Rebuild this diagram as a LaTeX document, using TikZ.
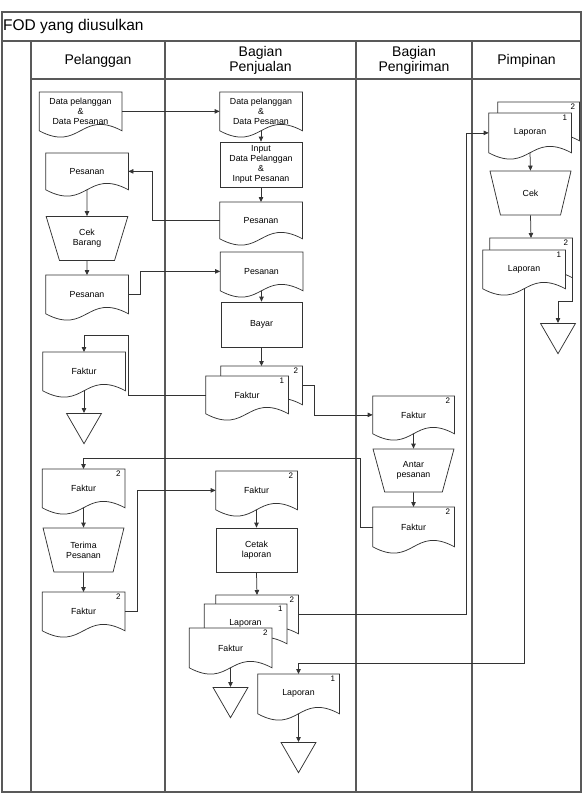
\documentclass[tikz,border=0pt]{standalone}
\usepackage{fontspec}
\setmainfont{Liberation Sans}
\usetikzlibrary{shapes.geometric,arrows.meta}

% bentuk dokumen: persegi dengan sisi bawah bergelombang
\newdimen\dokxa \newdimen\dokya \newdimen\dokxb \newdimen\dokyb \newdimen\dokxc
\makeatletter
\pgfdeclareshape{dokumen}{
  \inheritsavedanchors[from=rectangle]
  \inheritanchorborder[from=rectangle]
  \inheritanchor[from=rectangle]{center}
  \inheritanchor[from=rectangle]{text}
  \inheritanchor[from=rectangle]{north}
  \inheritanchor[from=rectangle]{south}
  \inheritanchor[from=rectangle]{east}
  \inheritanchor[from=rectangle]{west}
  \inheritanchor[from=rectangle]{north east}
  \inheritanchor[from=rectangle]{north west}
  \inheritanchor[from=rectangle]{south east}
  \inheritanchor[from=rectangle]{south west}
  \backgroundpath{%
    \southwest \dokxa=\pgf@x \dokya=\pgf@y
    \northeast \dokxb=\pgf@x \dokyb=\pgf@y
    \dokxc=.5\dokxa \advance\dokxc by .5\dokxb
    \pgfpathmoveto{\pgfqpoint{\dokxa}{\dokya}}%
    \pgfpathlineto{\pgfqpoint{\dokxa}{\dokyb}}%
    \pgfpathlineto{\pgfqpoint{\dokxb}{\dokyb}}%
    \pgfpathlineto{\pgfqpoint{\dokxb}{\dokya}}%
    \pgfpathcurveto{\pgfqpoint{\dokxc}{\dimexpr\dokya+22pt\relax}}%
                   {\pgfqpoint{\dokxc}{\dimexpr\dokya-22pt\relax}}%
                   {\pgfqpoint{\dokxa}{\dokya}}%
    \pgfpathclose
  }
}
\makeatother

\newcommand\teksisi{\fontsize{8.8}{10}\selectfont}

\begin{document}
\begin{tikzpicture}[x=1pt, y=-1pt,
  garis/.style={draw=black!80, line width=0.75pt},
  dok/.style={shape=dokumen, garis, fill=white, minimum width=82pt, minimum height=38pt,
    inner sep=1pt, align=center, anchor=north, font=\teksisi},
  proses/.style={rectangle, garis, fill=white, minimum width=82pt, minimum height=45pt,
    inner sep=1pt, align=center, font=\teksisi},
  manual/.style={trapezium, trapezium angle=110, trapezium stretches=true, garis,
    minimum width=82pt, minimum height=44pt, inner sep=1pt, align=center, font=\teksisi},
  arsip/.style={regular polygon, regular polygon sides=3, shape border rotate=180, garis,
    minimum size=40.4pt, inner sep=0pt, anchor=north},
  nomor/.style={anchor=north east, font=\fontsize{8}{8}\selectfont, inner xsep=4pt, inner ysep=2pt},
  panah/.style={draw=black!80, line width=0.75pt, -{Triangle[length=5pt,width=4.5pt]}},
  bingkai/.style={draw=black!65, line width=1.2pt},
  judul/.style={font=\fontsize{14}{15}\selectfont, align=center}]

  \useasboundingbox (0,0) rectangle (584,795);

  % ---- bingkai dan kepala kolom ----
  \draw[bingkai] (2,12) rectangle (581,792);
  \draw[bingkai] (2,41) -- (581,41);
  \draw[bingkai] (31,79) -- (581,79);
  \foreach \x in {31,165,356,472}
    \draw[bingkai] (\x,41) -- (\x,792);
  \node[anchor=west, inner sep=1pt, font=\fontsize{15.5}{16}\selectfont] (judulFOD) at (2,26.5) {FOD yang diusulkan};
  \node[judul] (hdPelanggan)  at (98,61)    {Pelanggan};
  \node[judul] (hdPenjualan)  at (260.5,60) {Bagian\\Penjualan};
  \node[judul] (hdPengiriman) at (414,60)   {Bagian\\Pengiriman};
  \node[judul] (hdPimpinan)   at (526.5,61) {Pimpinan};

  % ---- 1) Pelanggan ----
  \node[dok] (plData) at (80.5,92) {Data pelanggan\\\&\\Data Pesanan};
  \node[dok, minimum height=36pt] (plPesanan) at (87,153) {Pesanan};
  \node[manual] (plCekBarang) at (87,238.5) {Cek\\Barang};
  \node[dok] (plPesanan2) at (87,275) {Pesanan};
  \node[dok] (plFaktur) at (84,352) {Faktur};
  \node[arsip] (plArsip) at (84,413) {};
  \node[dok, label={[nomor]north east:2}] (plFaktur2) at (83.5,469) {Faktur};
  \node[manual, minimum width=81pt] (plTerima) at (83.5,550) {Terima\\Pesanan};
  \node[dok, label={[nomor]north east:2}] (plFaktur3) at (83.5,592) {Faktur};

  % ---- 2) Bagian Penjualan ----
  \node[dok] (pjData) at (261,92) {Data pelanggan\\\&\\Data Pesanan};
  \node[proses] (pjInput) at (261,164.5) {Input\\Data Pelanggan\\\&\\Input Pesanan};
  \node[dok, minimum height=36pt] (pjPesanan) at (261,202) {Pesanan};
  \node[dok] (pjPesanan2) at (261.5,252) {Pesanan};
  \node[proses, minimum width=81pt] (pjBayar) at (261.5,324.5) {Bayar};
  \node[dok, minimum width=81pt, label={[nomor]north east:2}] (pjFakturB) at (261.5,366) {};
  \node[dok, minimum height=37pt, label={[nomor]north east:1}] (pjFakturA) at (247,376) {Faktur};
  \node[dok, minimum width=81pt, label={[nomor]north east:2}] (pjFaktur2) at (256.5,471) {Faktur};
  \node[proses, minimum width=81pt, minimum height=44pt] (pjCetak) at (256.5,550) {Cetak\\laporan};
  \node[dok, label={[nomor]north east:2}] (pjLaporanB) at (257,595) {};
  \node[dok, minimum height=39pt, label={[nomor]north east:1}] (pjLaporanA) at (245.5,604) {Laporan};
  \node[dok, minimum height=39pt, label={[nomor]north east:2}] (pjFaktur3) at (230.5,628) {Faktur};
  \node[arsip] (pjArsip) at (230.5,687) {};
  \node[dok, minimum width=81pt, minimum height=39pt, label={[nomor]north east:1}] (pjLaporan) at (298.5,674) {Laporan};
  \node[arsip] (pjArsip2) at (298.5,742) {};

  % ---- 3) Bagian Pengiriman ----
  \node[dok, minimum width=81pt, minimum height=37pt, label={[nomor]north east:2}] (pgFaktur) at (413.5,396) {Faktur};
  \node[manual, minimum width=81pt, minimum height=43pt] (pgAntar) at (413.5,470.5) {Antar\\pesanan};
  \node[dok, minimum width=81pt, minimum height=39pt, label={[nomor]north east:2}] (pgFaktur2) at (413.5,507) {Faktur};

  % ---- 4) Pimpinan ----
  \node[dok, minimum width=81pt, label={[nomor]north east:2}] (pmLaporanB) at (538.5,102) {};
  \node[dok, minimum height=39pt, label={[nomor]north east:1}] (pmLaporanA) at (530,113) {Laporan};
  \node[manual, minimum width=81pt] (pmCek) at (530.5,193) {Cek};
  \node[dok, minimum height=39pt, label={[nomor]north east:2}] (pmLaporan2B) at (531,238) {};
  \node[dok, label={[nomor]north east:1}] (pmLaporan2A) at (524,250) {Laporan};
  \node[arsip] (pmArsip) at (558,323) {};

  % ---- alur ----
  \draw[panah] (plData.east) -- (pjData.west);
  \draw[panah] (pjData.south) -- (pjInput.north);
  \draw[panah] (pjInput.south) -- (pjPesanan.north);
  \draw[panah] (pjPesanan.west) -- ++(-67,0) |- (plPesanan.east);
  \draw[panah] (plPesanan.south) -- (plCekBarang.north);
  \draw[panah] (plCekBarang.south) -- (plPesanan2.north);
  \draw[panah] (plPesanan2.east) -- ++(12,0) |- (pjPesanan2.west);
  \draw[panah] (pjPesanan2.south) -- (pjBayar.north);
  \draw[panah] (pjBayar.south) -- (pjFakturB.north);
  \draw[panah] (pjFakturA.west) -- ++(-77,0) |- ([yshift=17pt]plFaktur.north) -- (plFaktur.north);
  \draw[panah] (plFaktur.south) -- (plArsip.north);
  \draw[panah] (pjFakturB.east) -- ++(12,0) |- (pgFaktur.west);
  \draw[panah] (pgFaktur.south) -- (pgAntar.north);
  \draw[panah] (pgAntar.south) -- (pgFaktur2.north);
  \draw[panah] (pgFaktur2.west) -- ++(-12,0) |- ([yshift=11pt]plFaktur2.north) -- (plFaktur2.north);
  \draw[panah] (plFaktur2.south) -- (plTerima.north);
  \draw[panah] (plTerima.south) -- (plFaktur3.north);
  \draw[panah] (plFaktur3.east) -- ++(12,0) |- (pjFaktur2.west);
  \draw[panah] (pjFaktur2.south) -- (pjCetak.north);
  \draw[panah] (pjCetak.south) -- (pjLaporanB.north);
  \draw[panah] (pjLaporanB.east) -- ++(168,0) |- (pmLaporanA.west);
  \draw[panah] (pjFaktur3.south) -- (pjArsip.north);
  \draw[panah] (pmLaporanA.south) -- (pmCek.north);
  \draw[panah] (pmCek.south) -- (pmLaporan2B.north);
  \draw[panah] (pmLaporan2B.south east) -- ++(0,24) -| (pmArsip.north);
  \draw[panah] (pmLaporan2A.south) |- ([yshift=11pt]pjLaporan.north) -- (pjLaporan.north);
  \draw[panah] (pjLaporan.south) -- (pjArsip2.north);
\end{tikzpicture}
\end{document}
